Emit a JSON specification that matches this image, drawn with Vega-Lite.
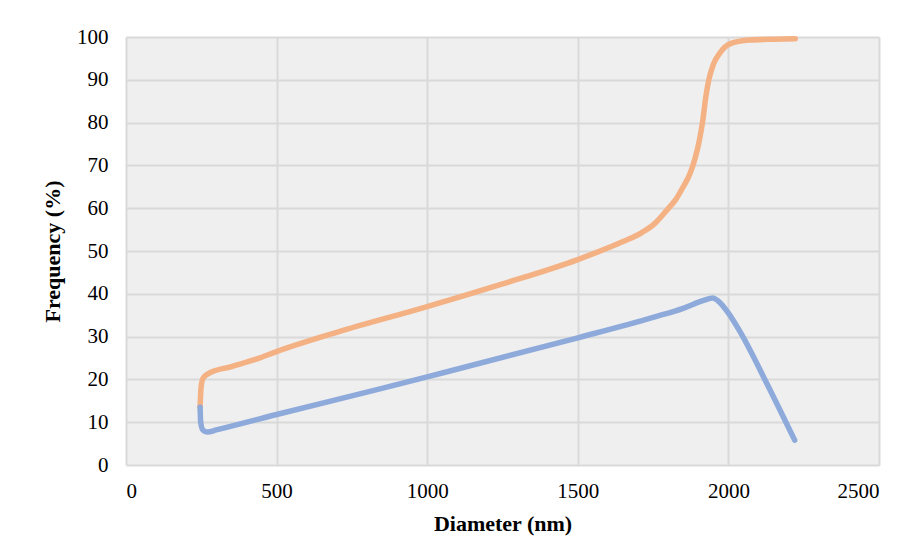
{
  "$schema": "https://vega.github.io/schema/vega-lite/v6.json",
  "width": 753,
  "height": 428,
  "autosize": {"type": "none"},
  "padding": {"left": 126, "top": 37, "right": 28, "bottom": 83},
  "background": "white",
  "config": {
    "view": {"fill": "#efefef", "stroke": null},
    "font": "Liberation Serif",
    "axis": {
      "grid": true,
      "gridColor": "#d9d9d9",
      "gridWidth": 2,
      "domain": false,
      "ticks": false,
      "labelFont": "Liberation Serif",
      "labelFontSize": 21,
      "labelColor": "#000000",
      "titleFont": "Liberation Serif",
      "titleFontSize": 22,
      "titleFontWeight": "bold",
      "titleColor": "#000000"
    }
  },
  "data": {
    "values": [
      {"series": "Cumulative", "d": 246, "f": 13.5},
      {"series": "Cumulative", "d": 249, "f": 18},
      {"series": "Cumulative", "d": 256, "f": 20.3},
      {"series": "Cumulative", "d": 272, "f": 21.3},
      {"series": "Cumulative", "d": 350, "f": 23},
      {"series": "Cumulative", "d": 435, "f": 24.8},
      {"series": "Cumulative", "d": 500, "f": 26.5},
      {"series": "Cumulative", "d": 700, "f": 31},
      {"series": "Cumulative", "d": 1000, "f": 37},
      {"series": "Cumulative", "d": 1250, "f": 42.3},
      {"series": "Cumulative", "d": 1500, "f": 48},
      {"series": "Cumulative", "d": 1650, "f": 52.2},
      {"series": "Cumulative", "d": 1710, "f": 54.2},
      {"series": "Cumulative", "d": 1755, "f": 56.4},
      {"series": "Cumulative", "d": 1795, "f": 59.5},
      {"series": "Cumulative", "d": 1825, "f": 62},
      {"series": "Cumulative", "d": 1850, "f": 65},
      {"series": "Cumulative", "d": 1872, "f": 68},
      {"series": "Cumulative", "d": 1890, "f": 71.8},
      {"series": "Cumulative", "d": 1904, "f": 76},
      {"series": "Cumulative", "d": 1915, "f": 80.5},
      {"series": "Cumulative", "d": 1925, "f": 86},
      {"series": "Cumulative", "d": 1935, "f": 90},
      {"series": "Cumulative", "d": 1950, "f": 93.6},
      {"series": "Cumulative", "d": 1972, "f": 96.3},
      {"series": "Cumulative", "d": 2005, "f": 98.4},
      {"series": "Cumulative", "d": 2070, "f": 99.3},
      {"series": "Cumulative", "d": 2150, "f": 99.5},
      {"series": "Cumulative", "d": 2222, "f": 99.6},
      {"series": "Frequency", "d": 246, "f": 13.5},
      {"series": "Frequency", "d": 248, "f": 10},
      {"series": "Frequency", "d": 255, "f": 8.2},
      {"series": "Frequency", "d": 270, "f": 7.7},
      {"series": "Frequency", "d": 300, "f": 8.2},
      {"series": "Frequency", "d": 500, "f": 11.8},
      {"series": "Frequency", "d": 843, "f": 17.8},
      {"series": "Frequency", "d": 1000, "f": 20.6},
      {"series": "Frequency", "d": 1500, "f": 29.7},
      {"series": "Frequency", "d": 1750, "f": 34.5},
      {"series": "Frequency", "d": 1850, "f": 36.6},
      {"series": "Frequency", "d": 1920, "f": 38.5},
      {"series": "Frequency", "d": 1948, "f": 39},
      {"series": "Frequency", "d": 1965, "f": 38.4},
      {"series": "Frequency", "d": 2000, "f": 35.5},
      {"series": "Frequency", "d": 2040, "f": 31},
      {"series": "Frequency", "d": 2128, "f": 19},
      {"series": "Frequency", "d": 2220, "f": 5.8}
    ]
  },
  "mark": {"type": "line", "strokeWidth": 5.5, "interpolate": "monotone", "strokeCap": "round", "strokeJoin": "round"},
  "encoding": {
    "x": {
      "field": "d", "type": "quantitative", "title": "Diameter (nm)",
      "scale": {"domain": [0, 2500], "nice": false},
      "axis": {"values": [0, 500, 1000, 1500, 2000, 2500], "format": "d", "labelPadding": 15, "titlePadding": 12}
    },
    "y": {
      "field": "f", "type": "quantitative", "title": "Frequency (%)",
      "scale": {"domain": [0, 100], "nice": false},
      "axis": {"values": [0, 10, 20, 30, 40, 50, 60, 70, 80, 90, 100], "format": "d", "labelPadding": 18, "titlePadding": 12}
    },
    "color": {
      "field": "series", "type": "nominal", "legend": null,
      "scale": {"domain": ["Cumulative", "Frequency"], "range": ["#f4b183", "#8eaadb"]}
    }
  }
}
